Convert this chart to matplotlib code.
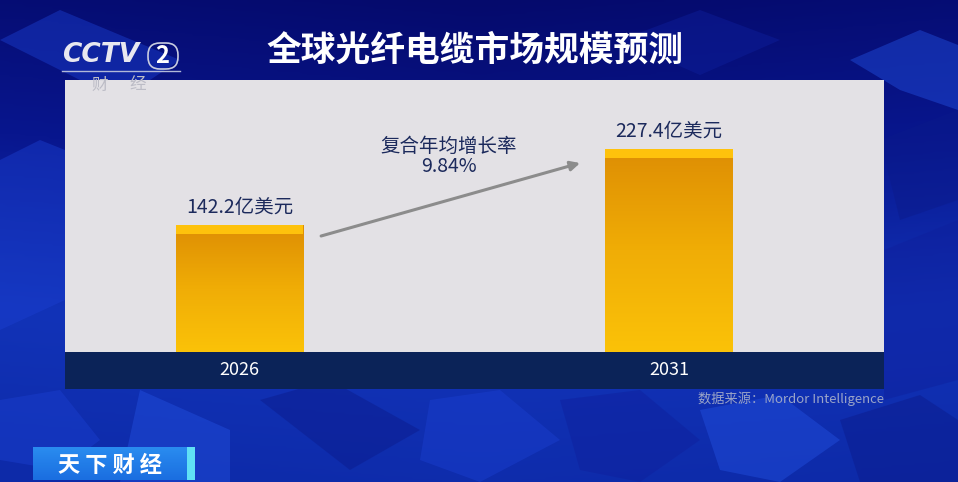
import matplotlib.pyplot as plt
import numpy as np
from matplotlib.patches import Polygon, Rectangle, FancyBboxPatch
from matplotlib.colors import LinearSegmentedColormap

plt.rcParams['font.family'] = ['Noto Sans CJK SC', 'DejaVu Sans']

# 数据
years = ['2026', '2031']
values = [142.2, 227.4]
unit = '亿美元'
cagr_label = '复合年均增长率'
cagr = '9.84%'
title = '全球光纤电缆市场规模预测'
source = '数据来源：Mordor Intelligence'

W, H = 958, 482
fig = plt.figure(figsize=(W / 100, H / 100), dpi=100)

# 背景：蓝色渐变 + 几块方块
bg = fig.add_axes([0, 0, 1, 1])
bg.set_xlim(0, W)
bg.set_ylim(H, 0)
bg.axis('off')
bg_cmap = LinearSegmentedColormap.from_list('bg', ['#050a6c', '#08168e', '#1233b8', '#0d2aa8'])
yy, xx = np.mgrid[0:1:200j, 0:1:200j]
grad = yy * 0.85 + 0.15 * np.abs(xx - 0.5)
bg.imshow(grad, cmap=bg_cmap, extent=[0, W, H, 0], aspect='auto', zorder=0)

cubes = [
    [(0, 40), (60, 10), (180, 60), (120, 100)],
    [(620, 40), (700, 10), (780, 40), (700, 75)],
    [(850, 60), (920, 30), (958, 45), (958, 110), (900, 90)],
    [(880, 140), (958, 110), (958, 200), (900, 220)],
    [(0, 160), (40, 140), (65, 150), (65, 300), (0, 330)],
    [(884, 250), (958, 220), (958, 380), (884, 400)],
    [(140, 390), (230, 430), (230, 482), (120, 482)],
    [(260, 400), (330, 380), (420, 430), (350, 470)],
    [(430, 400), (500, 390), (560, 440), (480, 482), (420, 460)],
    [(560, 400), (640, 390), (700, 440), (640, 482), (580, 470)],
    [(700, 410), (780, 395), (840, 440), (780, 482), (720, 470)],
    [(840, 420), (920, 395), (958, 420), (958, 482), (860, 482)],
    [(0, 400), (60, 390), (100, 440), (60, 470), (0, 460)],
]
shades = ['#1b3fd0', '#0e1f9c', '#2250e0', '#0b1a8a']
for i, pts in enumerate(cubes):
    bg.add_patch(Polygon(pts, closed=True, fc=shades[i % 4], ec='none', alpha=0.45, zorder=1))

# 标题
fig.text(475 / W, 1 - 50 / H, title, color='white', fontsize=25, fontweight='bold',
         ha='center', va='center')

# CCTV 台标
fig.text(62 / W, 1 - 55 / H, 'CCTV', color='#e8e8f0', fontsize=19, fontweight='bold',
         ha='left', va='center', style='italic', family=['DejaVu Sans'])
bg.add_patch(FancyBboxPatch((148, 43), 30, 26, boxstyle='round,pad=0,rounding_size=12',
                            fc='none', ec='#c8cce0', lw=1.2, zorder=3))
bg.text(162, 56, '2', color='white', fontsize=17, fontweight='bold', ha='center', va='center', zorder=4)
bg.plot([62, 180], [71, 71], color='#b0b8d8', lw=1, zorder=3)

# 年份条
bg.add_patch(Rectangle((65, 352), 819, 37, fc='#0b2358', ec='none', zorder=2))

# 主图区
ax = fig.add_axes([65 / W, 1 - 352 / H, 819 / W, 272 / H])
ax.set_facecolor('#e3e1e5')
x = np.arange(len(years))
ax.set_xlim(-0.4063, 1.5006)
ax.set_ylim(0, 304.6)
for s in ax.spines.values():
    s.set_visible(False)
ax.set_xticks([])
ax.set_yticks([])

bar_w = 0.296
bar_cmap = LinearSegmentedColormap.from_list('bar', ['#fbc208', '#f0ad06', '#de8e04'])
bars = ax.bar(x, values, width=bar_w, color='none', edgecolor='none', zorder=2)
for b, v in zip(bars, values):
    x0 = b.get_x()
    im = ax.imshow(np.linspace(0, 1, 100).reshape(-1, 1), cmap=bar_cmap, origin='lower',
                   extent=[x0, x0 + bar_w, 0, v], aspect='auto', zorder=2)
    im.set_clip_path(b)
    ax.bar(b.get_x() + bar_w / 2, 10, bottom=v - 10, width=bar_w, color='#fec20c',
           edgecolor='none', zorder=3)
    ax.text(b.get_x() + bar_w / 2, v + 8, f'{v}{unit}', ha='center', va='bottom',
            fontsize=14, color='#1c2a5c', zorder=4)

# 增长箭头
ax.annotate('', xy=(0.793, 211.6), xytext=(0.19, 129.9),
            arrowprops=dict(arrowstyle='-|>', color='#8c8c8c', lw=2.2,
                            mutation_scale=14, shrinkA=0, shrinkB=0))
ax.text(0.487, 230, cagr_label, ha='center', va='center', fontsize=14, color='#1c2a5c')
ax.text(0.487, 208, cagr, ha='center', va='center', fontsize=14, color='#1c2a5c')

# 台标下的“财 经”压在图区上
fig.text(100 / W, 1 - 85 / H, '财', color='#bcbcc6', fontsize=12, ha='center', va='center')
fig.text(138 / W, 1 - 85 / H, '经', color='#bcbcc6', fontsize=12, ha='center', va='center')

# 年份标签
for xi, yr in zip(x, years):
    px = 65 + (xi + 0.4063) * 429.5
    bg.text(px, 370, yr, color='white', fontsize=13, ha='center', va='center', zorder=4)

# 数据来源
bg.text(884, 399, source, color='#9aa4c8', fontsize=9.5, ha='right', va='center', zorder=4)

# 天下财经
tag_cmap = LinearSegmentedColormap.from_list('tag', ['#2a8cf0', '#1a6ee0'])
bg.imshow(np.linspace(0, 1, 50).reshape(-1, 1), cmap=tag_cmap,
          extent=[33, 187, 480, 447], aspect='auto', zorder=3)
bg.add_patch(Rectangle((187, 447), 8, 33, fc='#5fe0f5', ec='none', zorder=4))
bg.text(110, 465, '天 下 财 经', color='white', fontsize=16, fontweight='bold',
        ha='center', va='center', zorder=5)
bg.set_xlim(0, W)
bg.set_ylim(H, 0)

fig.savefig('out.png', dpi=100)
